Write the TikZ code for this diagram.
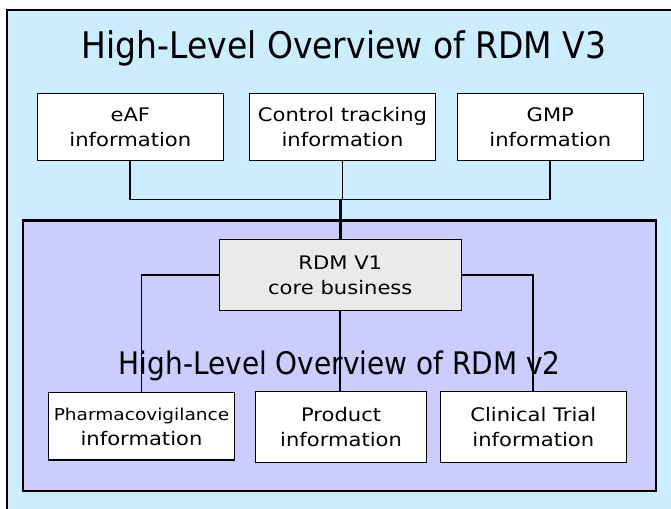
\documentclass[tikz,border=0pt]{standalone}
\usepackage{fontspec}
\setmainfont{DejaVu Sans}[FakeStretch=1.13]
\newfontfamily\titlefont{DejaVu Sans}[FakeStretch=0.9]
\definecolor{outerblue}{RGB}{204,236,255}
\definecolor{innerviolet}{RGB}{204,204,255}
\definecolor{coregray}{RGB}{234,234,234}

\begin{document}
\begin{tikzpicture}[x=0.75pt,y=-0.75pt]
\tikzstyle{infobox}=[draw, fill=white, line width=0.9pt, align=center, inner sep=0pt, minimum width=139.5pt, minimum height=50.5pt, font=\fontsize{14}{18.75}\selectfont]
\tikzstyle{link}=[line width=1.3pt]
    \useasboundingbox (0,0) rectangle (671,508);
    \begin{scope}
        \clip (0,0) rectangle (671,508);
        \draw[fill=outerblue, line width=1.6pt] (6.7,10) rectangle (690,530);
    \end{scope}
    \draw[fill=innerviolet, line width=1.6pt] (22.7,220.5) rectangle (656,490.7);
    \node[font=\titlefont\fontsize{27.5}{30}\selectfont, anchor=base] (v3title) at (344,58.3) {High-Level Overview of RDM V3};
    \node[font=\titlefont\fontsize{23.3}{26}\selectfont, anchor=base] (v2title) at (339.7,374) {High-Level Overview of RDM v2};
    \node[infobox] (eaf) at (130.3,127) {eAF\\information};
    \node[infobox] (ctrl) at (342.5,127) {Control tracking\\information};
    \node[infobox] (gmp) at (550.3,127) {GMP\\information};
    \node[infobox, fill=coregray, minimum width=181.5pt, minimum height=53.5pt] (rdm) at (340.3,275) {RDM V1\\core business};
    \node[infobox] (pharma) at (141.5,426.4) {{\fontsize{12.3}{14}\selectfont Pharmacovigilance}\\information};
    \node[infobox, minimum width=128.4pt, minimum height=53.5pt] (prod) at (341.1,427) {Product\\information};
    \node[infobox, minimum height=53pt] (clin) at (533.3,427) {Clinical Trial\\information};
    \coordinate (top) at (340.3,199.5);
    \draw[link] (eaf.south) |- (top) -| (gmp.south);
    \draw[link] (ctrl.south) -- (ctrl.south |- top);
    \draw[line width=1.8pt] (top) -- (rdm.north);
    \draw[link] (rdm.west) -| (pharma.north);
    \draw[link] (rdm.east) -| (clin.north);
    \draw[link] (rdm.south) -- (rdm.south |- prod.north);
\end{tikzpicture}
\end{document}
